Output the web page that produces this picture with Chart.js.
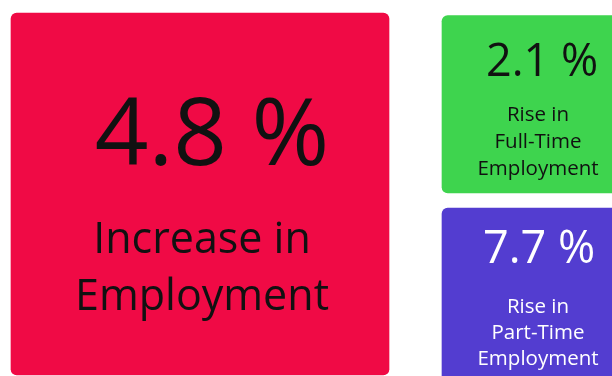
<!DOCTYPE html>
<html>
<head>
<meta charset="utf-8">
<script src="https://cdn.jsdelivr.net/npm/chart.js@4"></script>
<style>
  html, body { margin: 0; padding: 0; background: #fff; }
  canvas { display: block; }
</style>
</head>
<body>
<canvas id="kpiChart" width="612" height="376"></canvas>
<script>
// Employment figures shown on the tiles
const kpiValues = [4.8, 2.1, 7.7];
const kpiCaptions = [
  ['Increase in', 'Employment'],
  ['Rise in', 'Full-Time', 'Employment'],
  ['Rise in', 'Part-Time', 'Employment']
];
const tileColors = ['#F00A45', '#3ED44E', '#533DD0'];
const textColors = ['#111111', '#111111', '#ffffff'];

// Tile placement on the page (scale units = px) and text offsets from tile top
const tiles = [
  { x: 200, top: 13, bottom: 375, width: 378, valueSize: 94, valueShift: 12, valueBase: 152,
    capSize: 43, capShift: 2, capBase: [240, 297] },
  { x: 540, top: 15.5, bottom: 193, width: 196, valueSize: 45, valueShift: 2, valueBase: 60.5,
    capSize: 20.5, capShift: -2, capBase: [105.5, 132.5, 159.5] },
  { x: 540, top: 208, bottom: 420, width: 196, valueSize: 45, valueShift: -1, valueBase: 55,
    capSize: 20.5, capShift: -2, capBase: [105, 131, 157] }
];

const datasets = kpiValues.map((v, i) => ({
  label: kpiCaptions[i].join(' '),
  data: [{ x: tiles[i].x, y: [tiles[i].top, tiles[i].bottom] }],
  backgroundColor: tileColors[i],
  barThickness: tiles[i].width,
  borderRadius: 6,
  borderSkipped: false,
  grouped: false
}));

// writes the figure and its caption inside every tile
const tileText = {
  id: 'tileText',
  afterDatasetsDraw(chart) {
    const ctx = chart.ctx;
    ctx.save();
    ctx.textAlign = 'center';
    ctx.textBaseline = 'alphabetic';
    kpiValues.forEach((v, i) => {
      const bar = chart.getDatasetMeta(i).data[0];
      const top = Math.min(bar.y, bar.base);
      const t = tiles[i];
      ctx.fillStyle = textColors[i];
      ctx.font = '400 ' + t.valueSize + 'px "Open Sans", sans-serif';
      ctx.fillText(v.toFixed(1) + ' %', bar.x + t.valueShift, top + t.valueBase);
      ctx.font = '400 ' + t.capSize + 'px "Open Sans", sans-serif';
      kpiCaptions[i].forEach((line, j) => {
        ctx.fillText(line, bar.x + t.capShift, top + t.capBase[j]);
      });
    });
    ctx.restore();
  }
};

new Chart(document.getElementById('kpiChart'), {
  type: 'bar',
  data: { datasets: datasets },
  options: {
    responsive: false,
    animation: false,
    layout: { padding: 0 },
    plugins: { legend: { display: false }, tooltip: { enabled: false } },
    scales: {
      x: { type: 'linear', min: 0, max: 612, offset: false, display: false },
      y: { type: 'linear', min: 0, max: 376, reverse: true, display: false }
    }
  },
  plugins: [tileText]
});
</script>
</body>
</html>
